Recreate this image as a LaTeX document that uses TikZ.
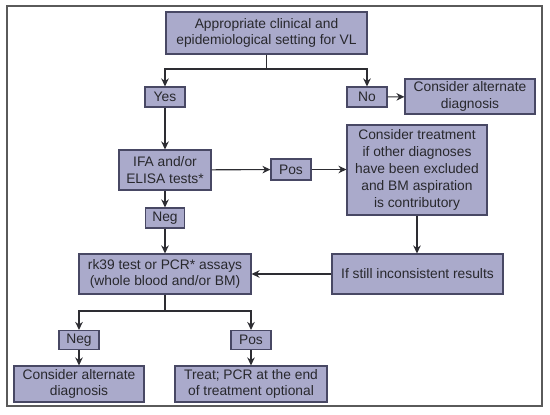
\documentclass[tikz,border=0pt]{standalone}
\usepackage{fontspec}
\setmainfont{Liberation Sans}
\usetikzlibrary{arrows.meta}
\definecolor{boxfill}{RGB}{170,170,203}
\definecolor{boxline}{RGB}{72,72,100}
\definecolor{txt}{RGB}{40,40,45}
\definecolor{conn}{RGB}{45,45,50}
\definecolor{framec}{RGB}{90,90,90}
\begin{document}
\begin{tikzpicture}[x=1pt,y=-1pt,
  box/.style={draw=boxline,line width=1.1pt,fill=boxfill,inner sep=0pt,align=center,
    text=txt,font=\fontsize{13.8}{16.8}\selectfont},
  arr/.style={draw=conn,line width=1.1pt,-{Stealth[length=8pt,width=7.5pt,inset=2.5pt]}},
  ln/.style={draw=conn,line width=1.1pt}]
\useasboundingbox (0,0) rectangle (550,415);
\fill[white] (0,0) rectangle (550,415);
\draw[framec,line width=1.5pt] (7,6) rectangle (542,406);

\node[box,minimum width=201pt,minimum height=42pt] (top) at (266.5,33)
  {Appropriate clinical and\\epidemiological setting for VL};
\node[box,minimum width=40pt,minimum height=20pt] (yes) at (165,97) {Yes};
\node[box,minimum width=40pt,minimum height=20pt] (no) at (367,97) {No};
\node[box,minimum width=130pt,minimum height=35pt] (alt1) at (470,96.5)
  {Consider alternate\\diagnosis};
\node[box,minimum width=92pt,minimum height=40pt] (ifa) at (165,170)
  {IFA and/or\\ELISA tests*};
\node[box,minimum width=40pt,minimum height=21pt] (pos1) at (291,169.5) {Pos};
\node[box,minimum width=140pt,minimum height=90pt] (treat1) at (417,170)
  {Consider treatment\\if other diagnoses\\have been excluded\\and BM aspiration\\is contributory};
\node[box,minimum width=39pt,minimum height=20pt] (neg1) at (165,218) {Neg};
\node[box,minimum width=172pt,minimum height=40pt] (rk) at (165,274)
  {rk39 test or PCR* assays\\(whole blood and/or BM)};
\node[box,minimum width=171pt,minimum height=40pt] (still) at (417.5,274)
  {If still inconsistent results};
\node[box,minimum width=40pt,minimum height=19pt] (neg2) at (79,340) {Neg};
\node[box,minimum width=40pt,minimum height=19pt] (pos2) at (251,340) {Pos};
\node[box,minimum width=130pt,minimum height=36pt] (alt2) at (79,384)
  {Consider alternate\\diagnosis};
\node[box,minimum width=152pt,minimum height=36pt] (treat2) at (251,384)
  {Treat; PCR at the end\\of treatment optional};

\coordinate (j1) at (266.5,69);
\coordinate (j2) at (165,311);

\draw[ln] (top) -- (j1);
\draw[arr] (j1) -| (yes);
\draw[arr] (j1) -| (no);
\draw[arr] (no) -- (alt1);
\draw[arr] (yes) -- (ifa);
\draw[arr] (ifa) -- (pos1);
\draw[arr] (pos1) -- (treat1.west |- pos1);
\draw[arr] (ifa) -- (neg1);
\draw[arr] (neg1) -- (rk);
\draw[arr] (treat1) -- (treat1 |- still.north);
\draw[arr] (still) -- (rk);
\draw[ln] (rk) -- (j2);
\draw[arr] (j2) -| (neg2);
\draw[arr] (j2) -| (pos2);
\draw[arr] (neg2) -- (alt2);
\draw[arr] (pos2) -- (treat2);
\end{tikzpicture}
\end{document}
